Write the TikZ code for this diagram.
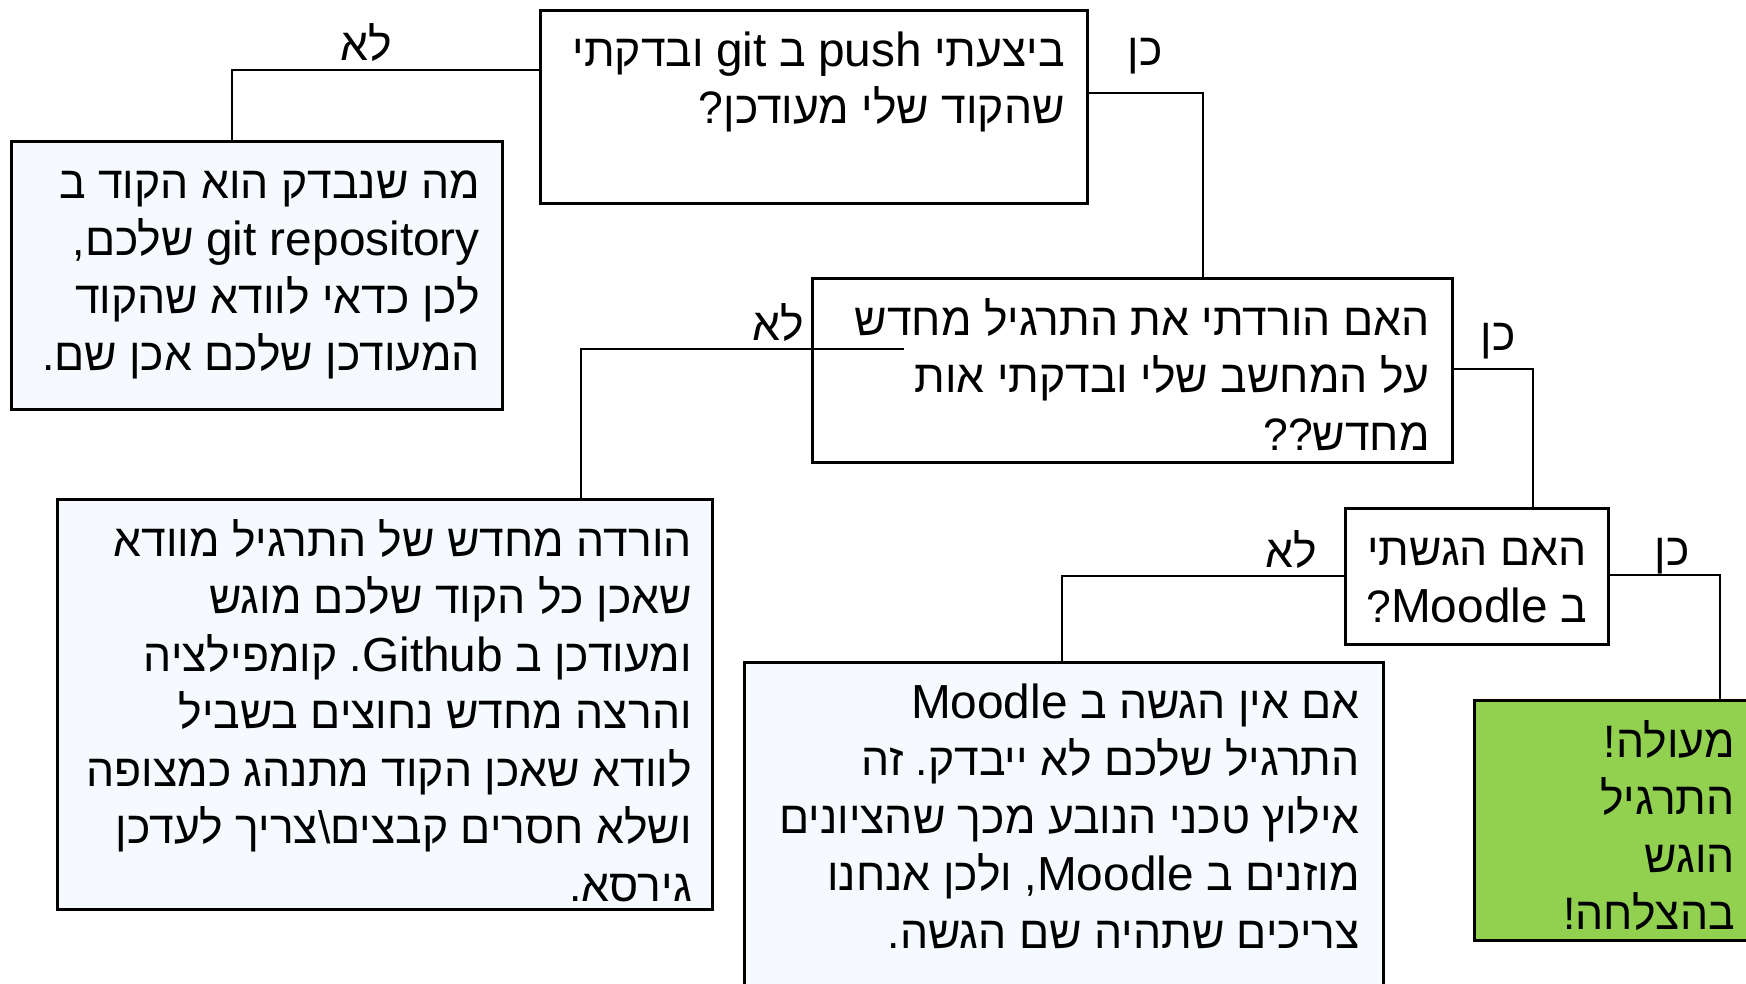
\documentclass[tikz,border=0pt]{standalone}
\usepackage{fontspec}
\setmainfont{Liberation Sans}[Script=Hebrew, FakeStretch=0.978]
\newfontfamily\latfont{Liberation Sans}[Scale=1.05]
\TeXXeTstate=1
\definecolor{ansblue}{HTML}{F6F9FE}
\definecolor{okgreen}{HTML}{92D050}
\newcommand{\rl}[1]{\beginR #1\endR}
\newcommand{\lat}[1]{{\latfont\beginL #1\endL}}
\newcommand{\pn}[1]{\hbox{#1}}
\newcommand{\hlines}[1]{\vtop{\baselineskip=57.5pt\lineskiplimit=-100pt\halign{\hfil##\cr#1\crcr}}}
\begin{document}
\begin{tikzpicture}[x=1pt,y=-1pt,
  box/.style={draw=black, line width=2.6pt, rectangle, inner sep=0pt, anchor=north west},
  qbox/.style={box, fill=white},
  abox/.style={box, fill=ansblue},
  okbox/.style={box, fill=okgreen},
  txt/.style={inner sep=0pt, anchor=base east, font=\fontsize{45.5}{57.5}\selectfont},
  lbl/.style={inner sep=0pt, anchor=base, font=\fontsize{45.5}{57.5}\selectfont},
  conn/.style={draw=black, line width=1.7pt}]
\useasboundingbox (0,0) rectangle (1746,983);
\clip (0,0) rectangle (1746,983);
\fill[white] (0,0) rectangle (1746,983);
% boxes
\node[qbox, minimum width=547pt, minimum height=193pt] (q1) at (539,9) {};
\node[abox, minimum width=491pt, minimum height=268pt] (ansA) at (10,140) {};
\node[qbox, minimum width=640pt, minimum height=184pt] (q2) at (811,277) {};
\node[abox, minimum width=655pt, minimum height=410pt] (ansB) at (56,498) {};
\node[qbox, minimum width=263pt, minimum height=136pt] (q3) at (1344,507) {};
\node[abox, minimum width=639pt, minimum height=360pt] (ansC) at (743,661) {};
\node[okbox, minimum width=290pt, minimum height=240pt] (ok) at (1473,699) {};
% connectors
\draw[conn] ([yshift=-61pt]q1.north west) -| ([xshift=222pt]ansA.north west);
\draw[conn] ([yshift=-84pt]q1.north east) -| ([xshift=392pt]q2.north west);
\draw[conn] ([xshift=93pt,yshift=-72pt]q2.north west) -| ([xshift=525pt]ansB.north west);
\draw[conn] ([yshift=-92pt]q2.north east) -| ([xshift=189pt]q3.north west);
\draw[conn] ([yshift=-69pt]q3.north west) -| ([xshift=319pt]ansC.north west);
\draw[conn] ([yshift=-68pt]q3.north east) -| ([xshift=247pt]ok.north west);
% texts
\node[txt] (q1t) at (1065,66) {\hlines{\rl{ביצעתי \lat{push} ב \lat{git} ובדקתי}\cr
  \rl{שהקוד שלי מעודכן\pn{?}}}};
\node[txt] (ansAt) at (480,198) {\hlines{\rl{מה שנבדק הוא הקוד ב}\cr
  \rl{\lat{git repository} שלכם\pn{,}}\cr
  \rl{לכן כדאי לוודא שהקוד}\cr
  \rl{המעודכן שלכם אכן שם\pn{.}}}};
\node[txt] (q2t) at (1430,335) {\hlines{\rl{האם הורדתי את התרגיל מחדש}\cr
  \rl{על המחשב שלי ובדקתי אות}\cr
  \rl{מחדש\pn{??}}}};
\node[txt] (ansBt) at (692,556) {\hlines{\rl{הורדה מחדש של התרגיל מוודא}\cr
  \rl{שאכן כל הקוד שלכם מוגש}\cr
  \rl{ומעודכן ב \lat{Github}\pn{.} קומפילציה}\cr
  \rl{והרצה מחדש נחוצים בשביל}\cr
  \rl{לוודא שאכן הקוד מתנהג כמצופה}\cr
  \rl{ושלא חסרים קבצים\pn{\textbackslash}צריך לעדכן}\cr
  \rl{גירסא\pn{.}}}};
\node[txt] (q3t) at (1587,565) {\hlines{\rl{האם הגשתי}\cr
  \rl{ב \lat{Moodle}\pn{?}}}};
\node[txt] (ansCt) at (1360,718) {\hlines{\rl{אם אין הגשה ב \lat{Moodle}}\cr
  \rl{התרגיל שלכם לא ייבדק\pn{.} זה}\cr
  \rl{אילוץ טכני הנובע מכך שהציונים}\cr
  \rl{מוזנים ב \lat{Moodle}\pn{,} ולכן אנחנו}\cr
  \rl{צריכים שתהיה שם הגשה\pn{.}}}};
\node[txt] (okt) at (1735,757) {\hlines{\rl{מעולה\pn{!}}\cr
  \rl{התרגיל}\cr
  \rl{הוגש}\cr
  \rl{בהצלחה\pn{!}}}};
% labels
\node[lbl] (l1) at (366,60) {\rl{לא}};
\node[lbl] (y1) at (1145,65) {\rl{כן}};
\node[lbl] (l2) at (778,340) {\rl{לא}};
\node[lbl] (y2) at (1498,350) {\rl{כן}};
\node[lbl] (l3) at (1291,567) {\rl{לא}};
\node[lbl] (y3) at (1672,565) {\rl{כן}};
\end{tikzpicture}
\end{document}
